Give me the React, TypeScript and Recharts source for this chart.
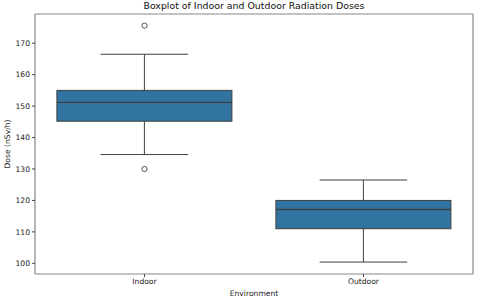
import React from 'react';
import { ComposedChart, Bar, Scatter, XAxis, YAxis } from 'recharts';

const environments = ['Indoor', 'Outdoor'];
const whiskerLow = [134.6, 100.4];
const q1 = [145.2, 111.0];
const median = [151.2, 117.1];
const q3 = [155.0, 120.0];
const whiskerHigh = [166.5, 126.5];
const outlierHigh = [175.6, null];
const outlierLow = [130.0, null];
const yTicks = [100, 110, 120, 130, 140, 150, 160, 170];

const data = environments.map((env, i) => ({
  env,
  range: [whiskerLow[i], whiskerHigh[i]],
  low: whiskerLow[i],
  q1: q1[i],
  median: median[i],
  q3: q3[i],
  high: whiskerHigh[i],
  outHi: outlierHigh[i],
  outLo: outlierLow[i],
}));

const EDGE = '#3f3f3f';
const BOX = '#3274a1';
const SPINE = '#888';
const FONT = '"DejaVu Sans", sans-serif';
const Y_DOMAIN = [96.6, 179.3];

// draws whiskers, box and median inside the pixel span of the [low, high] range bar
const BoxShape = (props: any) => {
  const { x, y, width, height, payload } = props;
  const top = Math.min(y, y + height);
  const h = Math.abs(height);
  const { low, high } = payload;
  const toY = (v: number) => top + (h * (high - v)) / (high - low);
  const cx = x + width / 2;
  const capW = width / 2;
  const yQ1 = toY(payload.q1);
  const yQ3 = toY(payload.q3);
  const yMed = toY(payload.median);
  return (
    <g>
      <line x1={cx} x2={cx} y1={top} y2={yQ3} stroke={EDGE} strokeWidth={1} />
      <line x1={cx} x2={cx} y1={yQ1} y2={top + h} stroke={EDGE} strokeWidth={1} />
      <line x1={cx - capW / 2} x2={cx + capW / 2} y1={top} y2={top} stroke={EDGE} strokeWidth={1} />
      <line x1={cx - capW / 2} x2={cx + capW / 2} y1={top + h} y2={top + h} stroke={EDGE} strokeWidth={1} />
      <rect x={x} y={yQ3} width={width} height={yQ1 - yQ3} fill={BOX} stroke={EDGE} strokeWidth={1} />
      <line x1={x} x2={x + width} y1={yMed} y2={yMed} stroke={EDGE} strokeWidth={1.4} />
    </g>
  );
};

const Flier = (props: any) => {
  const { cx, cy } = props;
  if (cx == null || cy == null || isNaN(cy)) return null;
  return <circle cx={cx} cy={cy} r={2.6} fill="none" stroke={EDGE} strokeWidth={0.9} />;
};

export default function App() {
  return (
    <div style={{ position: 'absolute', left: 0, top: 0, width: 480, height: 299, background: '#fff', fontFamily: FONT }}>
      <style>{'body{margin:0}'}</style>
      <div
        style={{
          position: 'absolute',
          left: 35,
          width: 438,
          top: 0,
          textAlign: 'center',
          fontSize: 9.4,
          lineHeight: '11px',
          color: '#111',
        }}
      >
        Boxplot of Indoor and Outdoor Radiation Doses
      </div>
      <ComposedChart
        width={480}
        height={299}
        data={data}
        margin={{ top: 13, right: 6, bottom: 0, left: 0 }}
        barCategoryGap="10%"
      >
        <XAxis
          dataKey="env"
          height={25}
          tick={{ fontSize: 7.6, fill: '#222', fontFamily: FONT }}
          tickSize={3}
          axisLine={{ stroke: SPINE, strokeWidth: 1.2 }}
          tickLine={{ stroke: '#444' }}
          label={{ value: 'Environment', position: 'insideBottom', offset: 3, fontSize: 7.6, fill: '#222', fontFamily: FONT }}
        />
        <XAxis xAxisId="top" dataKey="env" orientation="top" height={1} tick={false} tickLine={false} axisLine={{ stroke: SPINE, strokeWidth: 1.2 }} />
        <YAxis
          width={35}
          domain={Y_DOMAIN}
          ticks={yTicks}
          allowDataOverflow
          tick={{ fontSize: 7.6, fill: '#222', fontFamily: FONT }}
          tickSize={3}
          axisLine={{ stroke: SPINE, strokeWidth: 1.2 }}
          tickLine={{ stroke: '#444' }}
          label={{ value: 'Dose (nSv/h)', angle: -90, position: 'insideLeft', offset: 7, fontSize: 7.6, fill: '#222', fontFamily: FONT, style: { textAnchor: 'middle' } }}
        />
        <YAxis yAxisId="right" orientation="right" width={1} domain={Y_DOMAIN} allowDataOverflow tick={false} tickLine={false} axisLine={{ stroke: SPINE, strokeWidth: 1.2 }} />
        <Bar dataKey="range" shape={<BoxShape />} isAnimationActive={false} />
        <Scatter dataKey="outHi" xAxisId="top" yAxisId="right" shape={<Flier />} isAnimationActive={false} />
        <Scatter dataKey="outLo" shape={<Flier />} isAnimationActive={false} />
      </ComposedChart>
    </div>
  );
}
